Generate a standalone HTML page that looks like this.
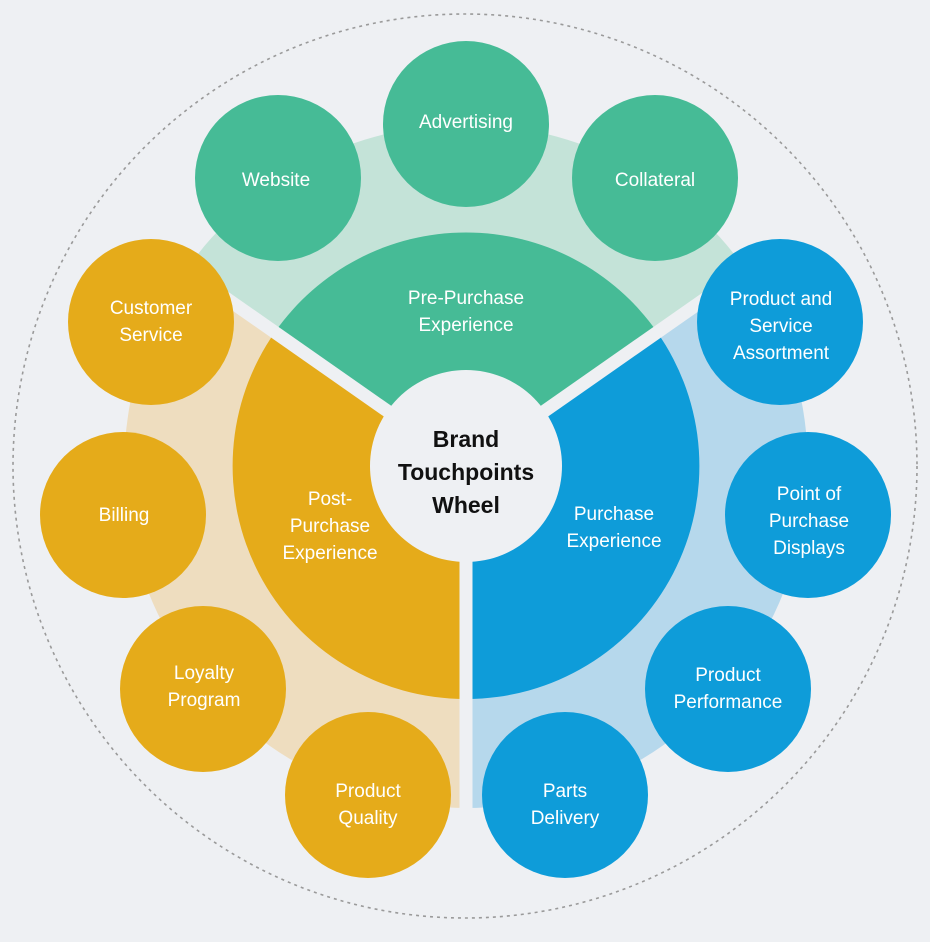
<!DOCTYPE html>
<html><head><meta charset="utf-8"><style>
html,body{margin:0;padding:0;background:#EEF0F3;}
svg{display:block}
text{font-family:"Liberation Sans",sans-serif;font-size:19px;fill:#fff;text-anchor:middle;}
.c{fill:#111;font-size:23px;font-weight:bold}
</style></head><body>
<svg width="930" height="942" viewBox="0 0 930 942">
<rect width="930" height="942" fill="#EEF0F3"/>
<circle cx="465" cy="466" r="452" fill="none" stroke="#9a9a9a" stroke-width="1.6" stroke-dasharray="3,4"/>
<!-- light sectors, r=342 ; angles: green -145..-35, blue -35..90, orange 90..215 -->
<path d="M466 466 L186 270 A342 342 0 0 1 746 270 Z" fill="#C4E3D8"/>
<path d="M466 466 L746 270 A342 342 0 0 1 466 808 Z" fill="#B6D8EC"/>
<path d="M466 466 L466 808 A342 342 0 0 1 186 270 Z" fill="#EEDDBF"/>
<!-- inner sectors r=233 -->
<path d="M466 466 L275 332 A233 233 0 0 1 657 332 Z" fill="#46BB96"/>
<path d="M466 466 L657 332 A233 233 0 0 1 466 699 Z" fill="#0E9CD9"/>
<path d="M466 466 L466 699 A233 233 0 0 1 275 332 Z" fill="#E5AB1A"/>
<!-- gaps -->
<g stroke="#EEF0F3" stroke-width="13">
<line x1="466" y1="466" x2="170" y2="259"/>
<line x1="466" y1="466" x2="762" y2="259"/>
<line x1="466" y1="466" x2="466" y2="830"/>
</g>
<circle cx="466" cy="466" r="96" fill="#EEF0F3"/>
<text class="c" x="466" y="447">Brand</text>
<text class="c" x="466" y="480">Touchpoints</text>
<text class="c" x="466" y="513">Wheel</text>
<text x="466" y="304">Pre-Purchase</text>
<text x="466" y="331">Experience</text>
<text x="614" y="520">Purchase</text>
<text x="614" y="547">Experience</text>
<text x="330" y="505">Post-</text>
<text x="330" y="532">Purchase</text>
<text x="330" y="559">Experience</text>
<!-- small circles -->
<g fill="#46BB96">
<circle cx="278" cy="178" r="83"/><circle cx="466" cy="124" r="83"/><circle cx="655" cy="178" r="83"/>
</g>
<g fill="#0E9CD9">
<circle cx="780" cy="322" r="83"/><circle cx="808" cy="515" r="83"/><circle cx="728" cy="689" r="83"/><circle cx="565" cy="795" r="83"/>
</g>
<g fill="#E5AB1A">
<circle cx="368" cy="795" r="83"/><circle cx="203" cy="689" r="83"/><circle cx="123" cy="515" r="83"/><circle cx="151" cy="322" r="83"/>
</g>
<text x="276" y="186">Website</text>
<text x="466" y="128">Advertising</text>
<text x="655" y="186">Collateral</text>
<text x="781" y="305">Product and</text>
<text x="781" y="332">Service</text>
<text x="781" y="359">Assortment</text>
<text x="809" y="500">Point of</text>
<text x="809" y="527">Purchase</text>
<text x="809" y="554">Displays</text>
<text x="728" y="681">Product</text>
<text x="728" y="708">Performance</text>
<text x="565" y="797">Parts</text>
<text x="565" y="824">Delivery</text>
<text x="368" y="797">Product</text>
<text x="368" y="824">Quality</text>
<text x="204" y="679">Loyalty</text>
<text x="204" y="706">Program</text>
<text x="124" y="521">Billing</text>
<text x="151" y="314">Customer</text>
<text x="151" y="341">Service</text>
</svg>
</body></html>
